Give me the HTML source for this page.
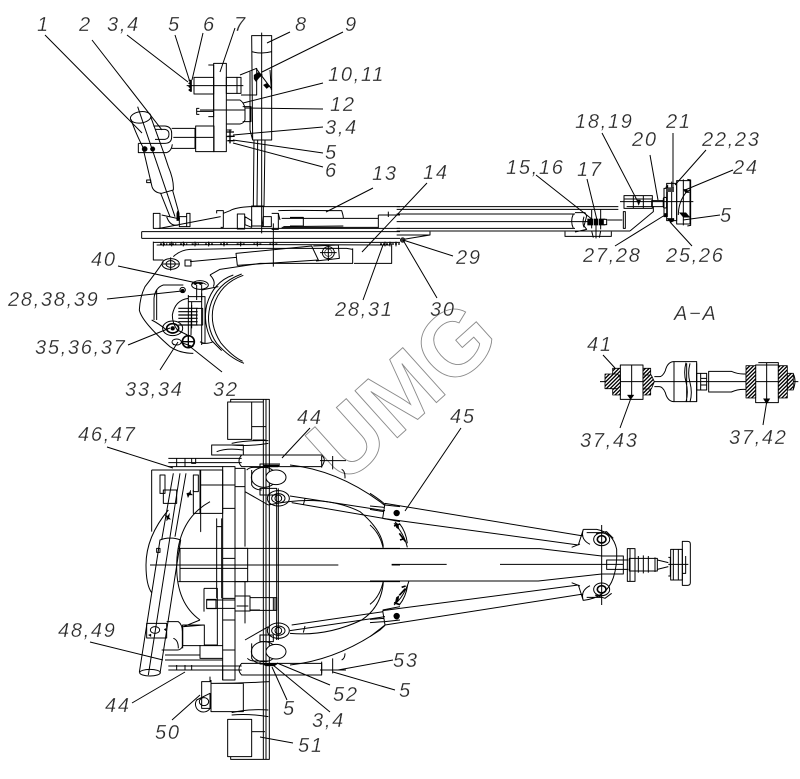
<!DOCTYPE html>
<html><head><meta charset="utf-8"><style>
html,body{margin:0;padding:0;background:#fff;width:800px;height:779px;overflow:hidden}
svg{display:block}
.l text{font-family:"Liberation Sans",sans-serif;font-style:italic;font-size:20px;letter-spacing:1.7px;fill:#2a2a2a;stroke:#fff;stroke-width:.25px}
.d{fill:none;stroke:#000;stroke-width:3;stroke-linejoin:round}
.t{fill:none;stroke:#333;stroke-width:2.2}
.f{fill:#000;stroke:#000;stroke-width:1}
.ld{stroke:#000;stroke-width:1;fill:none}
.h{fill:url(#hatch);stroke:#000;stroke-width:2.5}
</style></head><body>
<svg xmlns="http://www.w3.org/2000/svg" width="800" height="779" viewBox="0 0 800 779">
<defs>
<pattern id="hatch" width="8" height="8" patternUnits="userSpaceOnUse" patternTransform="rotate(45)"><rect width="8" height="8" fill="#fff"/><rect width="4" height="8" fill="#000"/></pattern>
</defs>
<rect width="800" height="779" fill="#fff"/>

<!-- watermark -->
<text transform="translate(401,390) rotate(-42)" x="0" y="33" text-anchor="middle" font-family="Liberation Sans,sans-serif" font-weight="bold" font-size="92" fill="#fff" stroke="#8a8a8a" stroke-width=".9">UMG</text>

<!-- side view (zoom 1 coords) -->
<g transform="scale(.33333)">
<g class="d">
<!-- lift cylinder -->
<ellipse cx="422" cy="352" rx="31" ry="17" transform="rotate(-8 422 352)"/>
<path d="M393 358Q405 395 428 440L456 560Q462 578 485 580L520 570Q522 540 505 500L490 455L452 350"/>
<path d="M413 320L525 650M482 580L510 650M518 572L537 640"/>
<path d="M440 540h12v8h-12z"/>
<path d="M415 430h80q20 0 20-20v-10q0-20-20-22h-35M415 430v28h85q15-5 17-25M465 388h30q12 2 12 14q0 14-12 16h-30"/>
<circle cx="434" cy="447" r="8" class="f"/><circle cx="458" cy="447" r="7" class="f"/>
<!-- shafts and blocks -->
<path d="M515 385h70v60h-70M520 412h120"/>
<rect x="587" y="378" width="55" height="77"/>
<rect x="641" y="190" width="38" height="265"/>
<path d="M625 195h16v155h-16M598 325h-8v18h8M590 334h52"/>
<rect x="582" y="232" width="59" height="50"/>
<rect x="679" y="232" width="32" height="48"/>
<rect x="711" y="232" width="12" height="48"/>
<path d="M560 257H730M720 225L770 205V285H723"/>
<path d="M680 300h40q12 8 15 25v35q-4 10-15 12h-40M728 320h25v45h-25M600 330h135M680 410h15M680 390h15"/>
<!-- column 8 -->
<path d="M755 107h60v313h-57zM755 155q30 8 60 0M750 215V390M750 390l8 30M810 210l4 60M768 205l45 60"/>
<path d="M785 98V700"/>
<path d="M762 420l-2 200M795 420l-3 200M773 420l-2 200"/>
<rect x="755" y="618" width="35" height="60"/>
<!-- base assembly -->
<path d="M478 685L662 650M650 640v-8h20v50h-8M670 640l20-8q18-10 60-12h450"/>
<path d="M460 640h20v45h-20zM560 640h10v40h-10zM538 650h22v30h-22zM485 645l55 12M500 650q10 30 35 25"/>
<path d="M475 685H1200M425 695H1200M425 715H1200M425 695v20"/>
<path d="M712 642h22v45h-22zM735 650l20 12v20l-20-8zM790 650l24 0v30h-28zM815 640h20v48h-20M845 655H1135M845 682H1135M870 652h40v26h-40M1135 645h65M1135 645v40"/>
<path d="M835 632q5-2 190 0q5 15 5 22M840 660l-5-20M850 680L1030 678"/>
<path d="M820 670V800M1165 635v16M1155 645h20"/>
<!-- lower frame -->
<path d="M460 725V780h30M1200 727H460M470 735q300-2 700 0M1175 730V790H1062M1058 745V790H780L660 808L630 825"/>
<path d="M520 770q20-20 50-22l190-3h40M760 745h280l18 3"/>
<!-- cyl -->
<path d="M708 760L935 738L955 780L712 796zM570 785L708 772M940 738l75-3l3 40l-70 8M555 780h18v18h-18z"/>
<circle cx="985" cy="758" r="18"/><circle cx="985" cy="758" r="11" class="t"/><path d="M985 735v48M960 758h50"/>
<ellipse cx="512" cy="792" rx="26" ry="16"/><ellipse cx="512" cy="792" rx="14" ry="10"/><path d="M488 792h50M512 772v40"/>
<!-- big plate -->
<path d="M490 785Q470 815 435 860Q420 890 418 930Q425 965 510 1040Q540 1060 580 1060"/>
<path d="M630 825q18 18 10 35"/>
<ellipse cx="600" cy="855" rx="25" ry="13"/><path d="M590 855V900M605 855V900"/>
<circle cx="548" cy="870" r="8"/>
<path d="M550 855H490q-25 8-28 40V960M470 870v90M455 960q20 10 45 30"/>
<path d="M520 1020L580 1040M535 1020h-15v14h15M600 1025q15 10 40 0"/>
<path d="M565 885V1005M605 880V1035M565 895q-40 5-48 50q0 25 15 45l30 15M605 870l50-10"/>
<path d="M565 905L605 905"/>
<rect x="590" y="925" width="18" height="50"/>
<path d="M565 890h40M575 905l-2 100"/>
<path d="M725 822Q648 850 630 920Q615 980 650 1030Q690 1075 732 1090"/>
<path d="M730 826Q660 850 640 920Q628 975 662 1028Q695 1068 728 1084"/>
<path d="M700 825Q640 845 620 915Q608 970 635 1022l30 30"/>
<path d="M605 890h10v140h-10"/>
</g>
<g>
<path class="f" d="M575 855a25 15 0 0 1 45 0l-10-5l-8 5l-8-5l-8 5l-8-5z"/>
<circle cx="548" cy="872" r="5" class="f"/>
<ellipse cx="518" cy="985" rx="30" ry="22" fill="none" stroke="#000" stroke-width="3"/><ellipse cx="518" cy="985" rx="18" ry="14" fill="none" stroke="#000" stroke-width="5"/><circle cx="518" cy="985" r="6" class="f"/>
<circle cx="565" cy="1025" r="18" fill="none" stroke="#000" stroke-width="5"/><path d="M565 1005v40M545 1025h40" stroke="#000" stroke-width="4"/>
<ellipse cx="530" cy="1026" rx="14" ry="9" fill="#fff" stroke="#000" stroke-width="3"/>
<path d="M535 925h58M535 935h58M535 945h58M535 955h58M535 965h58M535 975h58" stroke="#000" stroke-width="3.5"/>
<path d="M575 915V985" stroke="#000" stroke-width="3"/>
<path class="f" d="M565 240l6 5l-6 5l6 5l-6 5l6 5l-6 5l6 5h4V240z"/>
<path class="f" d="M762 225l12-8l14 8l-10 8l-10 12l-6-8zM790 255l10-5l10 8l-10 8z"/>
<path d="M680 396h22M682 409h22M682 422h22M690 388v42" stroke="#000" stroke-width="4"/>
<path d="M480 732h22M507 732h22M540 732h22M575 732h22M615 732h24M660 732h24M710 732h24M760 732h24M808 732h24M1140 732h60" stroke="#000" stroke-width="4" stroke-dasharray="6 3"/>
<path d="M490 725v14M515 725v14M550 725v14M585 725v14M626 725v14M672 725v14M722 725v14M772 725v14M820 725v14M1155 725v14M1170 725v14M1188 725v14" stroke="#000" stroke-width="3"/>
<path d="M530 640l3-8l5 8v22h-8z" class="f"/>
</g>
</g>

<!-- right end of side view (zoom 2 coords) -->
<g transform="translate(400,100) scale(.33333)">
<g class="d">
<path d="M-10 320H655M-10 328H655M-10 342H525M-10 365H615M-10 385H525M-10 393H690"/>
<path d="M520 342q-10 22 0 43M525 338h30l5 10l-8 30l8 10l-35 8M552 350q-6 18 0 32"/>
<path d="M575 330v55M602 328v60M622 360h45M670 335v50h6v-50zM690 393l70-58H760V320H680"/>
<path d="M495 395v14H634v-14M575 393l5 20M602 393l-4 20M588 360v55"/>
<rect x="672" y="287" width="85" height="38"/>
<path d="M672 297h85M700 287v38M730 287v38M660 305H880"/>
<rect x="755" y="302" width="35" height="18"/>
<rect x="790" y="292" width="10" height="32" rx="4"/>
<rect x="800" y="250" width="30" height="112"/>
<path d="M792 265h10v85h-10zM830 242h40v130h-40zM850 238v138M862 238l10 2v136l-10 2M815 245v120"/>
<path d="M835 345q0-40 25-70l10-5"/>
<path d="M-10 405H90v-10M10 418L90 405"/>
</g>
<g>
<rect x="562" y="356" width="54" height="20" fill="#000"/>
<path d="M610 358h10v16h-10z" fill="#fff" stroke="#000" stroke-width="3"/>
<path d="M580 352v28M596 352v28" stroke="#fff" stroke-width="2"/>
<path class="f" d="M710 300h12l-6 16z"/>
<rect x="800" y="262" width="22" height="14" fill="#444"/>
<path class="f" d="M800 355h22v8l-10 5zM838 338h20l12 14h-20zM794 340h8v10h-8zM796 262l8-8v10zM850 268h10l8 10h-12z"/>
<circle cx="8" cy="420" r="7" fill="#333" stroke="#000" stroke-width="2"/>
</g>
<!-- section A-A -->
<g class="d">
<path d="M600 845H1195"/>
<rect x="661" y="795" width="68" height="103"/>
<path d="M695 795V890"/>
<rect x="638" y="805" width="23" height="80" class="h"/>
<rect x="729" y="805" width="23" height="80" class="h"/>
<path class="h" d="M615 822h38l8 12v24l-10 8h-36z"/>
<path class="h" d="M729 825h25l9 20l-9 22h-25z"/>
<path d="M763 830h15q10 0 18-18q6-25 24-27h70v120h-70q-18-2-24-27q-8-18-18-18h-15"/>
<path d="M822 785v120M858 788q-8 30 0 58q8 30 0 60M860 790v115M870 790q-8 30 0 58q8 30 0 58M890 790v115"/>
<path d="M890 820h30v50h-30zM902 820v50M902 835h18M902 855h18"/>
<path d="M926 814h68q18 8 36 8h8V868h-8q-18 0-36 8h-68z"/>
<rect x="1067" y="795" width="68" height="113"/>
<path d="M1075 788h60v8M1100 788V905"/>
<rect x="1038" y="797" width="29" height="97" class="h"/>
<rect x="1135" y="797" width="27" height="97" class="h"/>
<path class="h" d="M1162 820h18v50h-18z"/>
<path d="M1180 822q10 20 0 46"/>
</g>
<path class="f" d="M682 885h20l-10 14z"/>
<path class="f" d="M1090 896h20l-10 16z"/>
</g>

<!-- plan view (zoom 3 coords) -->
<g transform="translate(60,390) scale(.33333)">
<g class="d">
<rect x="503" y="36" width="72" height="112"/>
<path d="M512 36V28H628V1108H512V1100M575 36H610M610 28V1108M618 28V1108M575 110h42M578 150h38"/>
<path d="M515 160q50-10 110-8M515 165q50 5 110-5"/>
<path d="M455 165h95v30h-95zM470 185q30-12 80-5"/>
<path d="M545 195h240q8 8 8 15t-8 20H545q-8-8-8-17t8-18z"/>
<path d="M325 205H545M325 218H545M325 230H490M350 205v25M375 205v25M395 205v15h12v-15M780 212h78M785 198v35M818 198v40M845 238q10 5 10 22v5"/>
<path d="M275 240H422V425h-1M275 240V425M300 255h15v55h-15zM400 255h15v50h-15z"/>
<rect x="420" y="240" width="68" height="130"/>
<path d="M420 285h68M400 300v70h20"/>
<rect x="488" y="230" width="37" height="640"/>
<path d="M488 285h37M488 355h37M488 505h37M488 625h37M488 690h37M488 780h37M470 385v240M485 385v240M470 410h15"/>
<path d="M525 235h30V290H525M555 290V470M525 475h38V575H525M555 575V700"/>
<!-- shaft stubs -->
<path d="M355 475H1020M355 575H1020M360 475v100M470 535H563M360 535H470M270 525H835M995 525h25"/>
<rect x="440" y="628" width="28" height="28"/>
<path d="M440 630H525M440 655H525M525 618h45v45h-45zM570 623h75v38h-75zM640 623h10v38h-10zM530 648h35M570 660h30"/>
<path d="M432 595h40v170h-40M432 595v70"/>
<path d="M368 705h65v62H368zM432 705l-60 5M420 690L370 710M420 767h68M420 765v40h68"/>
<!-- left cylinder -->
<path d="M238 847L300 450q30-12 62 0L300 850M265 855L360 250M340 250L305 450M378 250L345 440"/>
<ellipse cx="270" cy="848" rx="31" ry="10"/>
<path d="M290 475h10v12h-10zM310 300h40v40h-40z"/>
<rect x="260" y="700" width="60" height="44"/>
<ellipse cx="285" cy="720" rx="14" ry="10"/>
<path d="M320 695h35q12 8 12 30v45q-5 10-15 10h-40M340 745q15 5 15 30M310 780l-5 0"/>
<path d="M368 705v70"/>
<!-- ellipses -->
<path d="M325 360Q258 440 258 525Q258 585 275 608"/>
<path d="M450 335Q350 390 350 530Q350 640 420 690"/>
<path d="M555 305L625 345M625 345Q790 310 900 365Q965 420 970 470M970 575Q965 650 905 690Q800 740 690 730M555 750L625 710"/>
<path d="M690 225Q830 240 960 335L975 347M690 825Q830 810 960 720L975 706"/>
<!-- arms -->
<path d="M690 318L975 362M695 338L970 385M975 345L1020 350M968 385L1020 395M735 325l-5 20"/>
<path d="M690 722L975 680M695 705L970 665M975 695L1020 690M968 660L1020 650M735 708l-5 20"/>
<!-- tanks -->
<ellipse cx="612" cy="262" rx="38" ry="30"/>
<ellipse cx="648" cy="262" rx="30" ry="22" fill="#fff"/>
<path d="M575 240v45q8 15 30 15M560 240q8-8 20-8h45M600 232v-10h60"/>
<ellipse cx="612" cy="785" rx="38" ry="30"/>
<ellipse cx="648" cy="785" rx="30" ry="22" fill="#fff"/>
<path d="M575 760v45q8 15 30 15M562 805q8 8 20 8h45M600 812v10h50"/>
<!-- knuckles -->
<ellipse cx="655" cy="325" rx="33" ry="23"/><ellipse cx="655" cy="325" rx="20" ry="14"/>
<ellipse cx="655" cy="722" rx="33" ry="23"/><ellipse cx="655" cy="722" rx="20" ry="14"/>
<path d="M655 295V750M650 295V750M600 295h50v20h-50zM600 755h40v-20h-40z"/>
<!-- bottom -->
<path d="M325 828H545M325 840H545M488 825v45M350 825v15M375 825v15M395 825v15M545 820H785v35H545q-8-8-8-17t8-18z"/>
<path d="M780 840h78M785 815v35M818 805v45M845 810q10-5 10-20"/>
<path d="M315 795H420M315 810H488"/>
<path d="M425 875h28v80h-28zM453 870V965H550V880h-97M450 860v15M453 880q90 0 175-5"/>
<path d="M410 930a22 22 0 0 0 40 25v-45z"/>
<ellipse cx="432" cy="935" rx="14" ry="12"/>
<path d="M515 968q50-12 110-8M515 975q50-5 110 5"/>
<rect x="503" y="988" width="72" height="112"/>
<path d="M575 1025h40"/>
</g>
<g>
<path class="f" d="M315 375l8 3l6-8l-2 12l5 6l-8-1l-4 6v-10zM380 310l8-2l4-8v10l6 5l-10 0l-4 8zM1010 370m-8 0a8 8 0 1 0 16 0a8 8 0 1 0-16 0zM1010 680m-8 0a8 8 0 1 0 16 0a8 8 0 1 0-16 0z"/>
<circle cx="655" cy="325" r="10" fill="none" stroke="#000" stroke-width="3"/>
<circle cx="655" cy="722" r="10" fill="none" stroke="#000" stroke-width="3"/>
<path class="f" d="M610 225h50l-6 6h-40zM605 820h50l-12 8h-26zM265 735l8-3v8zM312 718l6-3v8z"/>
<path class="f" d="M1005 395l10 8l2 15l-8-5zM1005 640l10-8l2-15l-8 5z"/>
</g>
</g>

<!-- tail of plan view (zoom 4 coords) -->
<g transform="translate(370,470) scale(.33333)" class="d">
<path d="M0 236H510L695 258M0 333H505L695 312M65 283H230M390 283H760M695 165V405"/>
<path d="M45 100L640 198M38 145L625 225M0 118L42 125M0 108L42 112M45 100L38 145M640 178L625 225M640 178q-10 30 20 45"/>
<path d="M45 465L640 372M38 422L625 345M0 448L42 445M0 458L42 455M45 465L38 422M640 392L625 345M640 392q-10-30 20-45"/>
<path d="M640 178l40 0q50 10 60 60q2 50-10 85q-20 60-90 68M650 188h45M650 382h45M605 232l25-10M605 338l25 10"/>
<ellipse cx="695" cy="208" rx="24" ry="19"/><ellipse cx="695" cy="208" rx="13" ry="11" stroke-width="5"/>
<ellipse cx="695" cy="358" rx="24" ry="19"/><ellipse cx="695" cy="358" rx="13" ry="11" stroke-width="5"/>
<path d="M678 190l32-5l20 20M675 375l30 10l20-15"/>
<path d="M695 258H760V312H695M710 270H760V298H710z"/>
<path d="M772 236H795V334H772zM780 236v98M760 270h15M760 298h15"/>
<path d="M778 265H862V303H778zM805 258v50M820 256v54M835 258v50M855 262v44"/>
<path d="M862 270L895 278M862 298L895 290M895 283H955"/>
<path d="M902 238h35V330H902zM895 262h6v56h-6M910 238V330M925 238V330"/>
<path d="M937 214h16q8 0 8 8V338q0 8-8 8h-16zM947 258v52h-10"/>
<path d="M72 160q30 30 40 72M88 160q20 25 24 60M72 405q30-25 45-72M88 405q20-25 25-60M0 70Q28 88 45 103"/>
<path d="M0 165Q30 190 40 236M0 403Q30 380 40 333"/>
<path d="M0 500L45 465"/>
<circle cx="80" cy="129" r="8" fill="#000"/>
<circle cx="80" cy="438" r="8" fill="#000"/>
<path d="M72 168l18-6M88 190l18 24M90 210l12-4M72 398l18 6M95 352l12-4M88 376l18-20" stroke-width="5"/>
</g>

<!-- leaders -->
<g class="ld">
<path d="M45 35L142 133M92 40L162 130M127 35L188 82M175 35L190 82M203 33L192 80M235 28L220 72M290 32L267 43M343 32L262 72M323 83L243 103M323 109L245 108M323 127L233 135M323 153L233 140M323 167L233 143M373 188L326 212M427 183L362 252M363 300L383 245"/>
<path d="M118 266L197 283M107 299L182 291M128 345L170 328M160 370L178 342M222 372L188 345"/>
<path d="M536 175L593 220M587 179L597 220M602 133L638 202M650 155L658 200M673 133L673 188M706 150L675 185M733 170L685 190M720 215L683 220M692 246L670 222M615 246L665 215M453 256L403 240M437 298L403 240"/>
<path d="M603 355L615 368M620 428L631 398M763 425L767 400M461 428L405 511"/>
<path d="M310 428L282 458M107 447L173 468M90 642L163 660M132 703L185 672M172 720L200 695M293 743L260 737M287 700L272 667M330 712L273 665M330 685L277 663M393 660L338 670M395 690L333 672"/>
</g>

<!-- labels -->
<g class="l">
<text x="37" y="31">1</text>
<text x="79" y="31">2</text>
<text x="107" y="31">3,4</text>
<text x="168" y="31">5</text>
<text x="203" y="31">6</text>
<text x="234" y="31">7</text>
<text x="295" y="31">8</text>
<text x="345" y="31">9</text>
<text x="328" y="81">10,11</text>
<text x="330" y="111">12</text>
<text x="325" y="134">3,4</text>
<text x="325" y="159">5</text>
<text x="325" y="177">6</text>
<text x="372" y="180">13</text>
<text x="423" y="179">14</text>
<text x="506" y="174">15,16</text>
<text x="577" y="176">17</text>
<text x="575" y="128">18,19</text>
<text x="632" y="146">20</text>
<text x="666" y="128">21</text>
<text x="702" y="146">22,23</text>
<text x="733" y="174">24</text>
<text x="720" y="222">5</text>
<text x="666" y="262">25,26</text>
<text x="583" y="262">27,28</text>
<text x="456" y="264">29</text>
<text x="430" y="316">30</text>
<text x="335" y="316">28,31</text>
<text x="91" y="266">40</text>
<text x="8" y="306">28,38,39</text>
<text x="35" y="354">35,36,37</text>
<text x="125" y="396">33,34</text>
<text x="213" y="396">32</text>
<text x="674" y="320">A−A</text>
<text x="587" y="351">41</text>
<text x="580" y="447">37,43</text>
<text x="729" y="444">37,42</text>
<text x="450" y="423">45</text>
<text x="297" y="424">44</text>
<text x="78" y="441">46,47</text>
<text x="58" y="637">48,49</text>
<text x="105" y="712">44</text>
<text x="155" y="739">50</text>
<text x="298" y="752">51</text>
<text x="283" y="715">5</text>
<text x="312" y="727">3,4</text>
<text x="333" y="701">52</text>
<text x="393" y="667">53</text>
<text x="399" y="697">5</text>
</g>
</svg>
</body></html>
